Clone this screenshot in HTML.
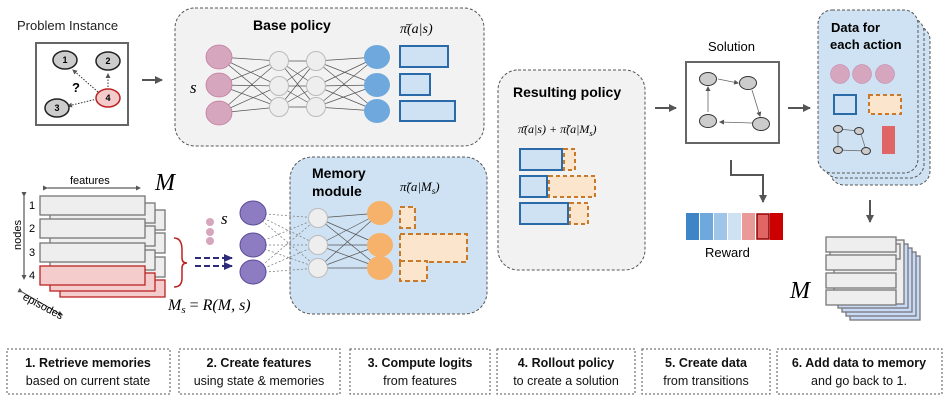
<!DOCTYPE html>
<html><head><meta charset="utf-8"><style>
body{margin:0;background:#fff}
svg{display:block;font-family:"Liberation Sans",sans-serif}
.m{font-family:"Liberation Serif",serif;font-style:italic}
</style></head><body>
<svg width="947" height="406" viewBox="0 0 947 406" xmlns="http://www.w3.org/2000/svg">
<defs>
<marker id="ar" markerWidth="8" markerHeight="8" refX="7" refY="4" orient="auto" markerUnits="userSpaceOnUse"><path d="M0,0 L8,4 L0,8z" fill="#555"/></marker>
<marker id="as" markerWidth="5" markerHeight="5" refX="4" refY="2.5" orient="auto" markerUnits="userSpaceOnUse"><path d="M0,0 L5,2.5 L0,5z" fill="#555"/></marker>
<marker id="ap" markerWidth="9" markerHeight="8" refX="8" refY="4" orient="auto" markerUnits="userSpaceOnUse"><path d="M0,0 L9,4 L0,8z" fill="#2e2a7a"/></marker>
</defs>
<!-- Problem instance -->
<text x="17" y="30" font-size="13" fill="#222">Problem Instance</text>
<rect x="36" y="43" width="92" height="82" fill="#fff" stroke="#666" stroke-width="2"/>
<g stroke="#333" stroke-dasharray="1.5,1.5" fill="none">
<line x1="98" y1="92" x2="73" y2="70" marker-end="url(#as)"/>
<line x1="108" y1="90" x2="108" y2="74" marker-end="url(#as)"/>
<line x1="97" y1="99" x2="68" y2="106" marker-end="url(#as)"/>
</g>
<g stroke="#222" stroke-width="1.5" fill="#ccc" font-size="9" font-weight="bold">
<ellipse cx="65" cy="60" rx="12" ry="9"/><ellipse cx="108" cy="61" rx="12" ry="9"/>
<ellipse cx="57" cy="108" rx="12" ry="9"/><ellipse cx="108" cy="98" rx="12" ry="9" fill="#f4cccc" stroke="#b22"/>
</g>
<g font-size="9" font-weight="bold" text-anchor="middle"><text x="65" y="63">1</text><text x="108" y="64">2</text><text x="57" y="111">3</text><text x="108" y="101">4</text></g>
<text x="72" y="92" font-size="13" font-weight="bold">?</text>
<line x1="142" y1="80" x2="162" y2="80" stroke="#555" stroke-width="2" marker-end="url(#ar)"/>
<!-- Base policy -->
<rect x="175" y="8" width="309" height="138" rx="20" fill="#f2f2f2" stroke="#555" stroke-dasharray="3,2"/>
<text x="253" y="30" font-size="14" font-weight="bold">Base policy</text>
<text x="400" y="33" class="m" font-size="14">π̄(a|s)</text>
<text x="190" y="93" class="m" font-size="17">s</text>
<g stroke="#555" stroke-width="0.7">
<path d="M219,57L279,61M219,57L279,86M219,57L279,107M219,85L279,61M219,85L279,86M219,85L279,107M219,113L279,61M219,113L279,86M219,113L279,107"/>
<path d="M279,61L316,61M279,61L316,86M279,61L316,107M279,86L316,61M279,86L316,86M279,86L316,107M279,107L316,61M279,107L316,86M279,107L316,107"/>
<path d="M316,61L377,57M316,61L377,85M316,61L377,111M316,86L377,57M316,86L377,85M316,86L377,111M316,107L377,57M316,107L377,85M316,107L377,111"/>
</g>
<g fill="#d5a6bd" stroke="#c27ba0" stroke-width="0.8"><ellipse cx="219" cy="57" rx="13" ry="12"/><ellipse cx="219" cy="85" rx="13" ry="12"/><ellipse cx="219" cy="113" rx="13" ry="12"/></g>
<g fill="#eee" stroke="#bbb"><circle cx="279" cy="61" r="9.5"/><circle cx="279" cy="86" r="9.5"/><circle cx="279" cy="107" r="9.5"/><circle cx="316" cy="61" r="9.5"/><circle cx="316" cy="86" r="9.5"/><circle cx="316" cy="107" r="9.5"/></g>
<g fill="#6fa8dc"><ellipse cx="377" cy="57" rx="13" ry="12"/><ellipse cx="377" cy="85" rx="13" ry="12"/><ellipse cx="377" cy="111" rx="13" ry="12"/></g>
<g fill="#cfe2f3" stroke="#2a6aa8" stroke-width="2"><rect x="400" y="46" width="48" height="21"/><rect x="400" y="74" width="30" height="21"/><rect x="400" y="101" width="55" height="20"/></g>
<!-- Memory module -->
<rect x="290" y="157" width="197" height="157" rx="22" fill="#cfe2f3" stroke="#555" stroke-dasharray="3,2"/>
<text x="312" y="178" font-size="14" font-weight="bold">Memory</text>
<text x="312" y="196" font-size="14" font-weight="bold">module</text>
<text x="400" y="191" class="m" font-size="13">π̃(a|M<tspan font-size="9" dy="3">s</tspan><tspan dy="-3">)</tspan></text>
<g stroke="#777" stroke-width="0.7" stroke-dasharray="2,2">
<path d="M253,213L318,218M253,213L318,245M253,213L318,268M253,245L318,218M253,245L318,245M253,245L318,268M253,273L318,218M253,273L318,245M253,273L318,268"/>
</g>
<g stroke="#555" stroke-width="0.7">
<path d="M318,218L380,213M318,218L380,245M318,218L380,268M318,245L380,213M318,245L380,245M318,245L380,268M318,268L380,213M318,268L380,245M318,268L380,268"/>
</g>
<g fill="#8e7cc3" stroke="#5b4a9a"><ellipse cx="253" cy="213" rx="13" ry="12"/><ellipse cx="253" cy="245" rx="13" ry="12"/><ellipse cx="253" cy="272" rx="13" ry="12"/></g>
<g fill="#eee" stroke="#bbb"><circle cx="318" cy="218" r="9.5"/><circle cx="318" cy="245" r="9.5"/><circle cx="318" cy="268" r="9.5"/></g>
<g fill="#f6b26b"><ellipse cx="380" cy="213" rx="13" ry="12"/><ellipse cx="380" cy="245" rx="13" ry="12"/><ellipse cx="380" cy="268" rx="13" ry="12"/></g>
<g fill="#fce5cd" stroke="#c9792a" stroke-width="2" stroke-dasharray="5,3"><rect x="400" y="207" width="15" height="21"/><rect x="400" y="234" width="67" height="28"/><rect x="400" y="261" width="27" height="20"/></g>
<g fill="#d5a6bd"><circle cx="210" cy="222" r="4"/><circle cx="210" cy="232" r="4"/><circle cx="210" cy="241" r="4"/></g>
<text x="221" y="224" class="m" font-size="17">s</text>
<g stroke="#2e2a7a" stroke-width="2" stroke-dasharray="6,3"><line x1="195" y1="258" x2="232" y2="258" marker-end="url(#ap)"/><line x1="195" y1="266" x2="232" y2="266" marker-end="url(#ap)"/></g>
<path d="M174,238 Q182,238 182,250 L182,258 Q182,263 187,263 Q182,263 182,268 L182,278 Q182,287 174,287" fill="none" stroke="#b22" stroke-width="1.5"/>
<text x="168" y="310" class="m" font-size="16">M<tspan font-size="11" dy="3">s</tspan><tspan dy="-3" font-style="normal"> = </tspan>R(M, s)</text>
<!-- Memory stack -->
<text x="70" y="184" font-size="11">features</text>
<line x1="47" y1="188" x2="140" y2="188" stroke="#333" marker-end="url(#as)" marker-start="url(#as)"/>
<text x="155" y="190" class="m" font-size="24">M</text>
<g stroke="#777" stroke-width="1.3" fill="#eee">
<rect x="60" y="210" width="105" height="20"/><rect x="60" y="233" width="105" height="20"/><rect x="60" y="257" width="105" height="20"/>
<rect x="50" y="203" width="105" height="20"/><rect x="50" y="226" width="105" height="20"/><rect x="50" y="250" width="105" height="20"/>
</g>
<g stroke="#b22" stroke-width="1.3" fill="#f4cccc"><rect x="60" y="280" width="105" height="17"/><rect x="50" y="273" width="105" height="18"/></g>
<g stroke="#777" stroke-width="1.3" fill="#eee">
<rect x="40" y="196" width="105" height="19"/><rect x="40" y="219" width="105" height="19"/><rect x="40" y="243" width="105" height="19"/>
</g>
<rect x="40" y="266" width="105" height="19" fill="#f4cccc" stroke="#b22" stroke-width="1.3"/>
<g font-size="11"><text x="29" y="209">1</text><text x="29" y="232">2</text><text x="29" y="256">3</text><text x="29" y="279">4</text></g>
<line x1="24" y1="196" x2="24" y2="279" stroke="#333" marker-end="url(#as)" marker-start="url(#as)"/>
<text x="0" y="0" font-size="11" transform="translate(21,250) rotate(-90)">nodes</text>
<line x1="22" y1="292" x2="62" y2="315" stroke="#333" marker-end="url(#as)" marker-start="url(#as)"/>
<text x="0" y="0" font-size="11" transform="translate(22,299) rotate(28)">episodes</text>
<!-- Resulting policy -->
<rect x="498" y="70" width="147" height="200" rx="20" fill="#f2f2f2" stroke="#555" stroke-dasharray="3,2"/>
<text x="513" y="97" font-size="14" font-weight="bold">Resulting policy</text>
<text x="518" y="133" class="m" font-size="12">π̄(a|s) + π̃(a|M<tspan font-size="8" dy="3">s</tspan><tspan dy="-3">)</tspan></text>
<g fill="#cfe2f3" stroke="#2a6aa8" stroke-width="2"><rect x="520" y="149" width="42" height="21"/><rect x="520" y="176" width="27" height="21"/><rect x="520" y="203" width="48" height="21"/></g>
<g fill="#fce5cd" stroke="#c9792a" stroke-width="2" stroke-dasharray="4,3"><rect x="564" y="149" width="11" height="21"/><rect x="549" y="176" width="46" height="21"/><rect x="570" y="203" width="18" height="21"/></g>
<line x1="655" y1="108" x2="676" y2="108" stroke="#555" stroke-width="2" marker-end="url(#ar)"/>
<!-- Solution -->
<text x="708" y="51" font-size="13">Solution</text>
<rect x="686" y="62" width="93" height="81" fill="#fff" stroke="#666" stroke-width="2"/>
<g stroke="#666" stroke-width="0.8" fill="none"><line x1="718" y1="79" x2="738" y2="83" marker-end="url(#as)"/><line x1="752" y1="90" x2="760" y2="116" marker-end="url(#as)"/><line x1="752" y1="123" x2="720" y2="122" marker-end="url(#as)"/><line x1="708" y1="112" x2="708" y2="87" marker-end="url(#as)"/></g>
<g fill="#ccc" stroke="#333"><ellipse cx="708" cy="79" rx="8.5" ry="6.5"/><ellipse cx="748" cy="83" rx="8.5" ry="6.5"/><ellipse cx="708" cy="121" rx="8.5" ry="6.5"/><ellipse cx="761" cy="124" rx="8.5" ry="6.5"/></g>
<path d="M731,160 L731,175 L763,175 L763,202" fill="none" stroke="#555" stroke-width="2" marker-end="url(#ar)"/>
<g><rect x="686" y="213" width="13" height="27" fill="#3d85c6"/><rect x="700" y="213" width="13" height="27" fill="#6fa8dc"/><rect x="714" y="213" width="13" height="27" fill="#9fc5e8"/><rect x="728" y="213" width="13" height="27" fill="#cfe2f3"/><rect x="742" y="213" width="13" height="27" fill="#ea9999"/><rect x="757" y="214" width="12" height="25" fill="#e06666" stroke="#900" stroke-width="1.5"/><rect x="770" y="213" width="13" height="27" fill="#cc0000"/></g>
<text x="705" y="257" font-size="13">Reward</text>
<line x1="788" y1="108" x2="810" y2="108" stroke="#555" stroke-width="2" marker-end="url(#ar)"/>
<!-- Data for each action -->
<rect x="830" y="26" width="100" height="159" rx="14" fill="#cfe2f3" stroke="#555" stroke-dasharray="3,2"/>
<rect x="824" y="18" width="100" height="160" rx="14" fill="#cfe2f3" stroke="#555" stroke-dasharray="3,2"/>
<rect x="818" y="10" width="100" height="163" rx="14" fill="#cfe2f3" stroke="#555" stroke-dasharray="3,2"/>
<text x="831" y="32" font-size="13" font-weight="bold">Data for</text>
<text x="830" y="49" font-size="13" font-weight="bold">each action</text>
<g fill="#d5a6bd" stroke="#c27ba0" stroke-width="0.5"><circle cx="840" cy="74" r="9.5"/><circle cx="862" cy="74" r="9.5"/><circle cx="885" cy="74" r="9.5"/></g>
<rect x="834" y="95" width="22" height="19" fill="#cfe2f3" stroke="#2a6aa8" stroke-width="2"/>
<rect x="869" y="95" width="32" height="19" fill="#fce5cd" stroke="#c9792a" stroke-width="2" stroke-dasharray="4,3"/>
<g stroke="#666" stroke-width="0.7"><line x1="838" y1="129" x2="859" y2="131"/><line x1="860" y1="131" x2="866" y2="150"/><line x1="866" y1="151" x2="838" y2="150"/><line x1="838" y1="150" x2="838" y2="129"/></g>
<g fill="#ccc" stroke="#333"><ellipse cx="838" cy="129" rx="4.5" ry="3.5"/><ellipse cx="859" cy="131" rx="4.5" ry="3.5"/><ellipse cx="838" cy="150" rx="4.5" ry="3.5"/><ellipse cx="866" cy="151" rx="4.5" ry="3.5"/></g>
<rect x="882" y="126" width="13" height="28" fill="#e06666"/>
<line x1="870" y1="200" x2="870" y2="222" stroke="#555" stroke-width="2" marker-end="url(#ar)"/>
<!-- M stack right -->
<text x="790" y="298" class="m" font-size="24">M</text>
<g stroke="#777" stroke-width="1.3">
<g fill="#c9daf8"><rect x="850" y="256" width="70" height="64"/><rect x="846" y="252" width="70" height="64"/><rect x="842" y="248" width="70" height="64"/><rect x="838" y="244" width="70" height="64"/></g>
<g fill="#eee"><rect x="834" y="240" width="70" height="64"/><rect x="830" y="244" width="70" height="15"/></g>
<g fill="#eee"><rect x="826" y="237" width="70" height="15"/><rect x="826" y="255" width="70" height="15"/><rect x="826" y="273" width="70" height="15"/><rect x="826" y="290" width="70" height="15"/></g>
</g>
<!-- Bottom steps -->
<g fill="none" stroke="#555" stroke-dasharray="2,2"><rect x="7" y="349" width="163" height="45"/><rect x="179" y="349" width="161" height="45"/><rect x="350" y="349" width="140" height="45"/><rect x="497" y="349" width="138" height="45"/><rect x="642" y="349" width="128" height="45"/><rect x="777" y="349" width="165" height="45"/></g>
<g font-size="12.5" text-anchor="middle" fill="#111">
<text x="88" y="367" font-weight="bold">1. Retrieve memories</text><text x="88" y="385">based on current state</text>
<text x="259" y="367" font-weight="bold">2. Create features</text><text x="259" y="385">using state &amp; memories</text>
<text x="420" y="367" font-weight="bold">3. Compute logits</text><text x="420" y="385">from features</text>
<text x="566" y="367" font-weight="bold">4. Rollout policy</text><text x="566" y="385">to create a solution</text>
<text x="706" y="367" font-weight="bold">5. Create data</text><text x="706" y="385">from transitions</text>
<text x="859" y="367" font-weight="bold">6. Add data to memory</text><text x="859" y="385">and go back to 1.</text>
</g>
</svg>
</body></html>
